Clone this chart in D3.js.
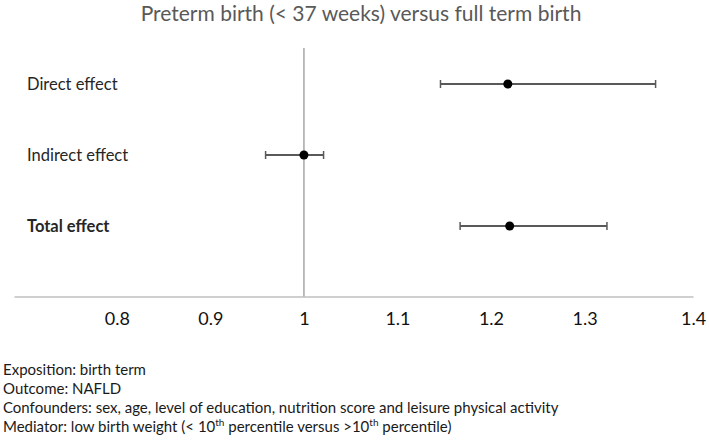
<!DOCTYPE html>
<html>
<head>
<meta charset="utf-8">
<script src="https://cdn.jsdelivr.net/npm/d3@7"></script>
<style>
  html, body { margin: 0; padding: 0; background: #fff; }
  svg { display: block; }
  text { font-family: Lato, "Open Sans", sans-serif; }
</style>
</head>
<body>
<svg id="chart" width="709" height="440"></svg>
<script>
// ---- Data ----
const categories = ["Direct effect", "Indirect effect", "Total effect"];
const estimates  = [1.218, 1.00, 1.220];
const lowerCI    = [1.146, 0.959, 1.167];
const upperCI    = [1.376, 1.021, 1.324];
const boldRows   = ["Total effect"];
const tickValues = [0.8, 0.9, 1, 1.1, 1.2, 1.3, 1.4];
const tickLabels = ["0.8", "0.9", "1", "1.1", "1.2", "1.3", "1.4"];
const title = "Preterm birth (< 37 weeks) versus full term birth";
const notes = [
  [["Exposition: birth term", false]],
  [["Outcome: NAFLD", false]],
  [["Confounders: sex, age, level of education, nutrition score and leisure physical activity", false]],
  [["Mediator: low birth weight (< 10", false], ["th", true], [" percentile versus >10", false], ["th", true], [" percentile)", false]]
];
const refValue = 1;

// ---- Layout ----
const svg = d3.select("#chart");
const x = d3.scaleLinear().domain([0.69, 1.416]).range([14, 693]);
const y = d3.scalePoint().domain(categories).range([84, 226]);
const axisY = 296.5, refTop = 48;

const rows = categories.map((c, i) => ({cat: c, est: estimates[i], lo: lowerCI[i], hi: upperCI[i]}));

// title
svg.append("text")
  .attr("x", 361).attr("y", 21)
  .attr("text-anchor", "middle")
  .attr("font-size", 21)
  .attr("fill", "#595959")
  .text(title);

// x axis
const axis = d3.axisBottom(x)
  .tickValues(tickValues)
  .tickFormat((d, i) => tickLabels[i])
  .tickSize(0)
  .tickPadding(12);
const gx = svg.append("g").attr("transform", `translate(0,${axisY})`).call(axis);
gx.select(".domain").attr("stroke", "#bfbfbf").attr("stroke-width", 1.5);
gx.selectAll(".tick text")
  .attr("font-family", "Lato, sans-serif")
  .attr("font-size", 18)
  .attr("fill", "#111")
  .attr("dy", "0.9em");
// last label sits flush at the right edge of the plot, as in the source
gx.selectAll(".tick").filter(d => d === tickValues[tickValues.length - 1])
  .select("text").attr("dx", 15);

// reference line
svg.append("line")
  .attr("x1", x(refValue)).attr("x2", x(refValue))
  .attr("y1", refTop).attr("y2", axisY)
  .attr("stroke", "#a6a6a6").attr("stroke-width", 1.5);

// row labels
svg.append("g").selectAll("text")
  .data(rows).join("text")
  .attr("x", 27)
  .attr("y", d => y(d.cat) + 5.5)
  .attr("font-size", 16.5)
  .attr("font-weight", d => boldRows.includes(d.cat) ? "bold" : "normal")
  .attr("fill", "#262626")
  .text(d => d.cat);

// error bars
const eb = svg.append("g").selectAll("g").data(rows).join("g");
eb.append("line")
  .attr("x1", d => x(d.lo)).attr("x2", d => x(d.hi))
  .attr("y1", d => y(d.cat)).attr("y2", d => y(d.cat))
  .attr("stroke", "#595959").attr("stroke-width", 1.8);
eb.append("line")
  .attr("x1", d => x(d.lo)).attr("x2", d => x(d.lo))
  .attr("y1", d => y(d.cat) - 4).attr("y2", d => y(d.cat) + 4)
  .attr("stroke", "#595959").attr("stroke-width", 1.5);
eb.append("line")
  .attr("x1", d => x(d.hi)).attr("x2", d => x(d.hi))
  .attr("y1", d => y(d.cat) - 4).attr("y2", d => y(d.cat) + 4)
  .attr("stroke", "#595959").attr("stroke-width", 1.5);
eb.append("circle")
  .attr("cx", d => x(d.est)).attr("cy", d => y(d.cat))
  .attr("r", 4.5).attr("fill", "#000");

// notes
const nt = svg.append("g").selectAll("text").data(notes).join("text")
  .attr("x", 3)
  .attr("y", (d, i) => 375 + i * 19)
  .attr("font-size", 15)
  .attr("fill", "#1a1a1a");
nt.selectAll("tspan").data(d => d).join("tspan")
  .attr("font-size", d => d[1] ? 10 : null)
  .attr("dy", (d, i, n) => {
    const prevSup = i > 0 && n[i - 1].__data__[1];
    if (d[1]) return -6;
    return prevSup ? 6 : 0;
  })
  .text(d => d[0]);
</script>
</body>
</html>
